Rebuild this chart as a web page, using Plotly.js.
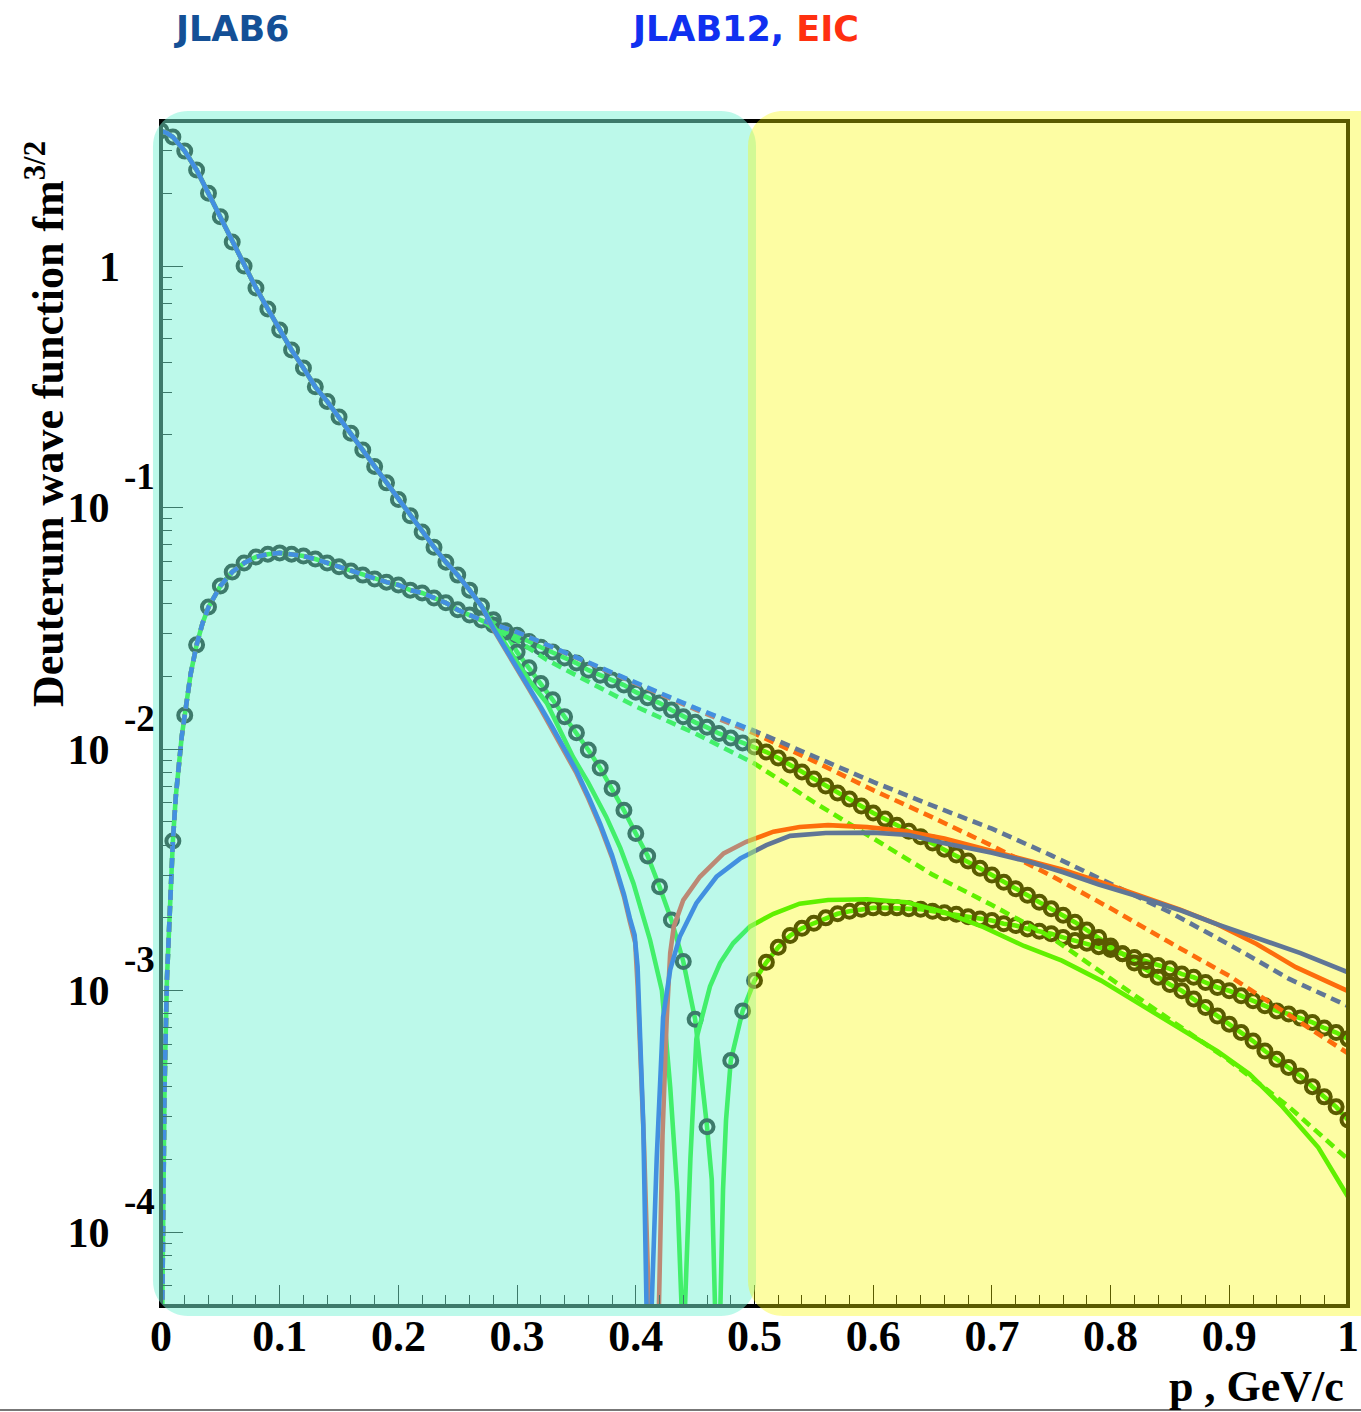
<!DOCTYPE html>
<html><head><meta charset="utf-8">
<script src="https://cdn.plot.ly/plotly-3.0.1.min.js"></script>
<style>body{margin:0;background:#fff}</style>
</head><body><div id="chart" style="width:1361px;height:1412px"></div>
<script>
// ---------- data (p in GeV/c, wave functions in fm^3/2) ----------
const pCirc = [0,0.01,0.02,0.03,0.04,0.05,0.06,0.07,0.08,0.09,0.10,0.11,0.12,0.13,0.14,0.15,0.16,0.17,0.18,0.19,0.20,0.21,0.22,0.23,0.24,0.25,0.26,0.27,0.28,0.29,0.30,0.31,0.32,0.33,0.34,0.35,0.36,0.37,0.38,0.39,0.40,0.41,0.42,0.43,0.44,0.45,0.46,0.47,0.48,0.49,0.50,0.51,0.52,0.53,0.54,0.55,0.56,0.57,0.58,0.59,0.60,0.61,0.62,0.63,0.64,0.65,0.66,0.67,0.68,0.69,0.70,0.71,0.72,0.73,0.74,0.75,0.76,0.77,0.78,0.79,0.80,0.81,0.82,0.83,0.84,0.85,0.86,0.87,0.88,0.89,0.90,0.91,0.92,0.93,0.94,0.95,0.96,0.97,0.98,0.99,1.00];
const sCirc = [3.63,3.42,2.99,2.50,2.00,1.60,1.256,1.00,0.811,0.664,0.543,0.449,0.378,0.316,0.275,0.237,0.203,0.173,0.148,0.1265,0.108,0.0925,0.0792,0.0685,0.0594,0.0525,0.0455,0.0391,0.0343,0.0305,0.0252,0.0217,0.0187,0.0160,0.0136,0.01167,0.00991,0.00834,0.00687,0.00558,0.00447,0.00361,0.00269,0.00196,0.00132,7.60e-4,2.73e-4,null,5.13e-4,8.24e-4,1.10e-3,1.31e-3,1.51e-3,1.69e-3,1.81e-3,1.90e-3,2.00e-3,2.08e-3,2.13e-3,2.17e-3,2.20e-3,2.20e-3,2.20e-3,2.18e-3,2.17e-3,2.13e-3,2.10e-3,2.07e-3,2.02e-3,1.98e-3,1.95e-3,1.89e-3,1.86e-3,1.80e-3,1.76e-3,1.72e-3,1.66e-3,1.61e-3,1.57e-3,1.52e-3,1.48e-3,1.42e-3,1.37e-3,1.32e-3,1.27e-3,1.23e-3,1.17e-3,1.135e-3,1.08e-3,1.03e-3,9.98e-4,9.51e-4,9.08e-4,8.65e-4,8.24e-4,8.00e-4,7.69e-4,7.38e-4,7.00e-4,6.70e-4,6.31e-4];
const dCirc = [null,4.16e-3,0.0138,0.0270,0.0387,0.0473,0.0541,0.0589,0.0624,0.0641,0.0649,0.0641,0.0630,0.0612,0.0589,0.0568,0.0546,0.0525,0.0506,0.0491,0.0478,0.0455,0.0443,0.0422,0.0403,0.0377,0.0359,0.0342,0.0326,0.0309,0.0296,0.0279,0.0264,0.0252,0.0238,0.0227,0.0212,0.0202,0.0193,0.0184,0.0172,0.0163,0.0155,0.0145,0.0136,0.0129,0.0123,0.0116,0.0111,0.0106,0.0102,9.72e-3,9.18e-3,8.59e-3,8.04e-3,7.52e-3,7.03e-3,6.58e-3,6.21e-3,5.81e-3,5.43e-3,5.13e-3,4.84e-3,4.57e-3,4.33e-3,4.08e-3,3.85e-3,3.64e-3,3.44e-3,3.21e-3,3.01e-3,2.81e-3,2.64e-3,2.48e-3,2.32e-3,2.18e-3,2.05e-3,1.92e-3,1.78e-3,1.66e-3,1.53e-3,1.42e-3,1.30e-3,1.22e-3,1.135e-3,1.06e-3,9.98e-4,9.23e-4,8.51e-4,7.85e-4,7.26e-4,6.70e-4,6.18e-4,5.62e-4,5.19e-4,4.80e-4,4.43e-4,4.00e-4,3.63e-4,3.30e-4,2.91e-4];
// fitted line through the circles near its node
const pCircNode = [0.464,0.4667,0.469,0.4713,0.4735,0.476];
const sCircNode = [1.65e-4,5.0e-5,1e-6,5.0e-5,1.5e-4,2.9e-4];

// common low-p part of the S-wave curves
const pS0 = [0,0.005,0.01,0.02,0.03,0.04,0.05,0.06,0.07,0.08,0.09,0.10,0.11,0.12,0.13,0.14,0.15,0.16,0.17,0.18,0.19,0.20,0.21,0.22,0.23,0.24,0.25,0.26,0.27];
const S0 = [3.63,3.55,3.42,2.99,2.50,2.00,1.60,1.256,1.00,0.811,0.664,0.543,0.449,0.378,0.316,0.275,0.237,0.203,0.173,0.148,0.1265,0.108,0.0925,0.0792,0.0685,0.0594,0.0525,0.0455,0.0391];
// common low-p part of the D-wave curves
const pD0 = [0.001,0.002,0.003,0.005,0.0075,0.01,0.0125,0.015,0.0175,0.02,0.025,0.03,0.035,0.04,0.05,0.06,0.07,0.08,0.09,0.10,0.11,0.12,0.13,0.14,0.15,0.16,0.17,0.18,0.19,0.20,0.21,0.22,0.23,0.24,0.25,0.26,0.27];
const D0 = [4.5e-5,1.78e-4,3.98e-4,1.12e-3,2.40e-3,4.16e-3,6.4e-3,8.9e-3,0.0113,0.0138,0.0205,0.0270,0.0332,0.0387,0.0473,0.0541,0.0589,0.0624,0.0641,0.0649,0.0641,0.0630,0.0612,0.0589,0.0568,0.0546,0.0525,0.0506,0.0491,0.0478,0.0455,0.0443,0.0422,0.0403,0.0377,0.0359,0.0342];

// blue model, S wave
const pBlueS = [0.28,0.29,0.30,0.31,0.32,0.33,0.34,0.35,0.36,0.37,0.38,0.39,0.395,0.399,0.4015,0.4035,0.4063,0.409,0.411,0.4134,0.4176,0.423,0.429,0.437,0.451,0.468,0.488,0.51,0.53,0.56,0.60,0.63,0.66,0.70,0.73,0.76,0.79,0.82,0.86,0.89,0.92,0.96,1.00];
const blueS = [0.0316,0.0263,0.0219,0.0181,0.0149,0.01225,0.0100,8.13e-3,6.38e-3,4.90e-3,3.63e-3,2.51e-3,1.99e-3,1.70e-3,1.26e-3,7.48e-4,2.80e-4,5.0e-5,1e-6,5.0e-5,2.01e-4,7.76e-4,1.22e-3,1.67e-3,2.30e-3,2.96e-3,3.52e-3,4.00e-3,4.37e-3,4.49e-3,4.51e-3,4.41e-3,4.07e-3,3.72e-3,3.43e-3,3.09e-3,2.75e-3,2.48e-3,2.14e-3,1.88e-3,1.68e-3,1.43e-3,1.19e-3];
// red model, S wave
const pRedS = [0.28,0.29,0.30,0.31,0.32,0.33,0.34,0.35,0.36,0.37,0.38,0.39,0.395,0.3995,0.4015,0.404,0.407,0.411,0.415,0.4195,0.4225,0.426,0.429,0.432,0.44,0.454,0.474,0.493,0.516,0.538,0.562,0.595,0.628,0.66,0.693,0.726,0.759,0.792,0.825,0.858,0.89,0.923,0.956,1.0];
const redS = [0.0313,0.0257,0.0214,0.0177,0.0146,0.0120,9.77e-3,7.94e-3,6.24e-3,4.79e-3,3.55e-3,2.45e-3,1.93e-3,1.58e-3,1.05e-3,5.62e-4,2.24e-4,5.0e-5,1e-6,5.0e-5,2.51e-4,7.55e-4,1.43e-3,1.84e-3,2.37e-3,2.96e-3,3.70e-3,4.13e-3,4.55e-3,4.76e-3,4.84e-3,4.75e-3,4.57e-3,4.26e-3,3.87e-3,3.52e-3,3.17e-3,2.81e-3,2.48e-3,2.17e-3,1.88e-3,1.56e-3,1.25e-3,9.95e-4];
// green model, S wave
const pGreenS = [0.28,0.29,0.30,0.31,0.325,0.347,0.36,0.375,0.387,0.398,0.412,0.422,0.429,0.435,0.4385,0.440,0.4415,0.446,0.451,0.4625,0.471,0.482,0.496,0.516,0.538,0.562,0.595,0.628,0.66,0.693,0.727,0.759,0.792,0.825,0.858,0.89,0.917,0.945,0.975,1.0];
const greenS = [0.0324,0.0272,0.0229,0.0193,0.0155,9.29e-3,7.24e-3,5.25e-3,3.89e-3,2.78e-3,1.62e-3,1.00e-3,3.98e-4,1.45e-4,5.0e-5,1e-6,5.0e-5,2.01e-4,6.3e-4,1.04e-3,1.30e-3,1.57e-3,1.84e-3,2.08e-3,2.29e-3,2.37e-3,2.39e-3,2.32e-3,2.11e-3,1.83e-3,1.53e-3,1.33e-3,1.10e-3,8.79e-4,7.03e-4,5.61e-4,4.51e-4,3.30e-4,2.24e-4,1.40e-4];
// D waves (dashed)
const pBRD = [0.30,0.35,0.40,0.45,0.50,0.55,0.60,0.65,0.70,0.75,0.80,0.85,0.90,0.95,1.00];
const blueD = [0.0305,0.0240,0.0189,0.0148,0.0119,9.33e-3,7.31e-3,5.83e-3,4.68e-3,3.63e-3,2.78e-3,2.11e-3,1.55e-3,1.12e-3,8.63e-4];
const redD = [0.0305,0.0240,0.0187,0.0146,0.0116,8.91e-3,6.76e-3,5.21e-3,3.98e-3,2.99e-3,2.19e-3,1.58e-3,1.15e-3,7.94e-4,5.50e-4];
const pGreenD = [0.28,0.30,0.325,0.35,0.40,0.45,0.50,0.55,0.60,0.65,0.70,0.75,0.80,0.85,0.90,0.95,1.00];
const greenD = [0.0316,0.0282,0.0234,0.0201,0.0150,0.0116,8.71e-3,6.03e-3,4.27e-3,3.02e-3,2.26e-3,1.66e-3,1.12e-3,7.59e-4,5.13e-4,3.31e-4,2.00e-4];

const xTickVals = [0,0.1,0.2,0.3,0.4,0.5,0.6,0.7,0.8,0.9,1];
const xTickText = ['0','0.1','0.2','0.3','0.4','0.5','0.6','0.7','0.8','0.9','1'];
const yTickVals = [1e-4,1e-3,1e-2,1e-1,1];
const yTickBase = ['10','10','10','10','1'];
const yTickExp  = ['-4','-3','-2','-1',''];

// ---------- build ----------
const BLUE='rgb(10,45,235)', RED='rgb(255,30,20)', GREEN='rgb(10,235,0)';
const LW=4.6, DASH='10px,6px';
function line(x,y,color,dash){return {type:'scatter',mode:'lines',x:x,y:y,line:{color:color,width:LW,dash:dash||'solid'},hoverinfo:'skip',showlegend:false};}
const MK={symbol:'circle-open',size:13,color:'#000',line:{width:4,color:'#000'}};

let cs=[];
pCirc.forEach((p,i)=>{ if(sCirc[i]!==null) cs.push([p,sCirc[i]]); });
pCircNode.forEach((p,i)=>cs.push([p,sCircNode[i]]));
cs.sort((a,b)=>a[0]-b[0]);
const circSx=cs.map(a=>a[0]), circSy=cs.map(a=>a[1]);
const circDx=pD0.concat(pCirc.filter(p=>p>0.275));
const circDy=D0.concat(dCirc.filter((v,i)=>pCirc[i]>0.275));

const traces=[
  line(circSx,circSy,GREEN),
  line(circDx,circDy,GREEN),
  {type:'scatter',mode:'markers',x:pCirc,y:sCirc,marker:MK,hoverinfo:'skip',showlegend:false},
  {type:'scatter',mode:'markers',x:pCirc,y:dCirc,marker:MK,hoverinfo:'skip',showlegend:false},
  line(pD0.concat(pGreenD),D0.concat(greenD),GREEN,DASH),
  line(pD0.concat(pBRD),D0.concat(redD),RED,DASH),
  line(pD0.concat(pBRD),D0.concat(blueD),BLUE,DASH),
  line(pS0.concat(pGreenS),S0.concat(greenS),GREEN),
  line(pS0.concat(pRedS),S0.concat(redS),RED),
  line(pS0.concat(pBlueS),S0.concat(blueS),BLUE)
];

const W=1361,H=1412,L=161,R=13,T=121,B=106;
const PW=W-L-R, PH=H-T-B;
function px(X){return (X-L)/PW;}
function py(Y){return (H-B-Y)/PH;}
function pt(X,Y){return px(X).toFixed(5)+','+py(Y).toFixed(5);}
function roundRect(X0,Y0,X1,Y1,r){
  const k=0.5523*r;
  return 'M'+pt(X0+r,Y0)+' L'+pt(X1-r,Y0)+' C'+pt(X1-r+k,Y0)+' '+pt(X1,Y0+r-k)+' '+pt(X1,Y0+r)+
    ' L'+pt(X1,Y1-r)+' C'+pt(X1,Y1-r+k)+' '+pt(X1-r+k,Y1)+' '+pt(X1-r,Y1)+
    ' L'+pt(X0+r,Y1)+' C'+pt(X0+r-k,Y1)+' '+pt(X0,Y1-r+k)+' '+pt(X0,Y1-r)+
    ' L'+pt(X0,Y0+r)+' C'+pt(X0,Y0+r-k)+' '+pt(X0+r-k,Y0)+' '+pt(X0+r,Y0)+' Z';
}
const SERIF='Liberation Serif, Times New Roman, serif';
const serif={family:SERIF,size:44,color:'#000',weight:'bold'};

const annotations=[
  {xref:'paper',yref:'paper',x:px(45),y:py(424),xanchor:'center',yanchor:'middle',textangle:-90,showarrow:false,
   text:'Deuterum wave function fm<sup>3/2</sup>',font:serif},
  {xref:'paper',yref:'paper',x:px(1346),y:py(1386),xanchor:'right',yanchor:'middle',showarrow:false,
   text:'p , GeV/c',font:serif},
  {xref:'paper',yref:'paper',x:px(172),y:py(29),xanchor:'left',yanchor:'middle',showarrow:false,
   text:'JLAB6',font:{family:'DejaVu Sans',size:35,weight:'bold',color:'#145096'}},
  {xref:'paper',yref:'paper',x:px(629),y:py(29),xanchor:'left',yanchor:'middle',showarrow:false,
   text:'<span style="color:#1030f0">JLAB12,</span> <span style="color:#ff3010">EIC</span>',font:{family:'DejaVu Sans',size:35,weight:'bold',color:'#1030f0'}}
];
// exponents of the y tick labels (ROOT style, above-right of "10")
yTickVals.forEach((v,i)=>{
  if(yTickExp[i]) annotations.push({xref:'paper',yref:'y',x:px(139),y:Math.log10(v),yshift:31,xanchor:'center',yanchor:'middle',
    showarrow:false,text:yTickExp[i],font:{family:SERIF,size:37,weight:'bold',color:'#000'}});
});

const layout={
  width:W,height:H,margin:{l:L,r:R,t:T,b:B,pad:0},
  paper_bgcolor:'#fff',plot_bgcolor:'#fff',showlegend:false,
  xaxis:{range:[0,1],tickmode:'array',tickvals:xTickVals,ticktext:xTickText,ticks:'inside',ticklen:21,tickwidth:1,tickcolor:'#000',
    minor:{dtick:0.02,ticks:'inside',ticklen:11,tickwidth:1,tickcolor:'#000',showgrid:false},
    showgrid:false,zeroline:false,showline:false,tickfont:serif,fixedrange:true},
  yaxis:{type:'log',range:[-4.306,0.6004],tickmode:'array',tickvals:yTickVals,
    ticktext:yTickBase.map(t=>t==='1'?t:t+'\u00a0'),ticks:'inside',ticklen:22,tickwidth:1,tickcolor:'#000',ticklabelstandoff:40,
    minor:{dtick:'D1',ticks:'inside',ticklen:11,tickwidth:1,tickcolor:'#000',showgrid:false},
    showgrid:false,zeroline:false,showline:false,tickfont:Object.assign({},serif,{size:42}),fixedrange:true},
  shapes:[
    {type:'rect',xref:'paper',yref:'paper',x0:0,x1:1,y0:0,y1:1,line:{color:'#000',width:4},fillcolor:'rgba(0,0,0,0)',layer:'above'},
    {type:'path',xref:'paper',yref:'paper',path:roundRect(153,111,756,1316,35),fillcolor:'rgb(122,244,214)',opacity:0.5,line:{width:0},layer:'above'},
    {type:'path',xref:'paper',yref:'paper',path:roundRect(748,111,1420,1316,35),fillcolor:'rgb(250,250,0)',opacity:0.36,line:{width:0},layer:'above'},
    {type:'line',xref:'paper',yref:'paper',x0:px(0),x1:px(W),y0:py(1410),y1:py(1410),line:{color:'#777',width:2},layer:'above'}
  ],
  annotations:annotations
};
Plotly.newPlot('chart',traces,layout,{staticPlot:true,displayModeBar:false});
</script></body></html>
